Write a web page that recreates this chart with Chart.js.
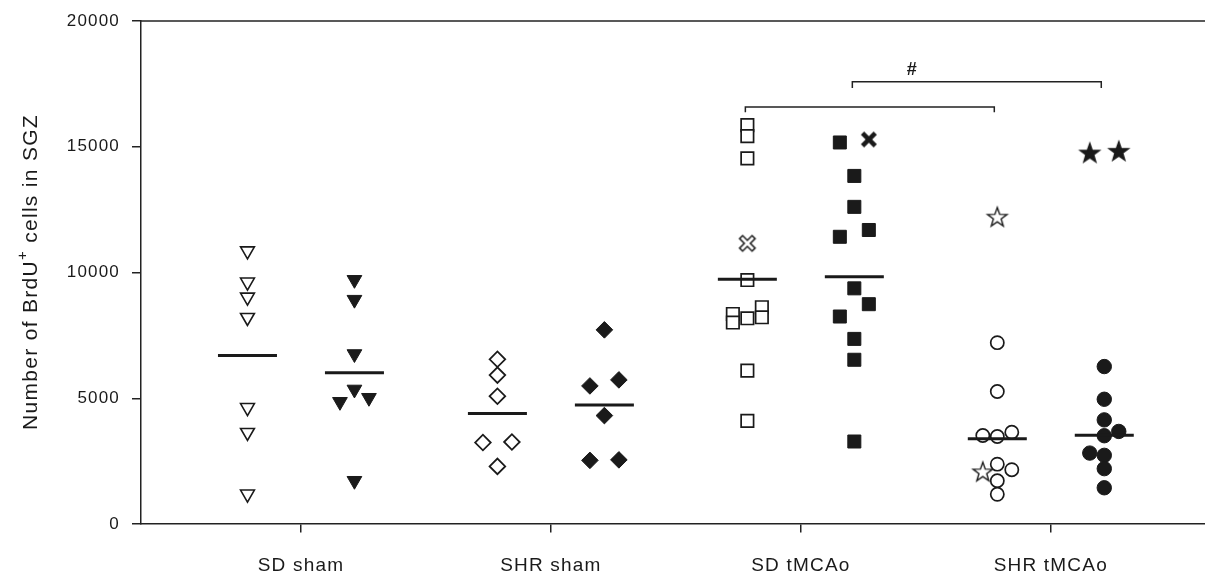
<!DOCTYPE html>
<html>
<head>
<meta charset="utf-8">
<script src="https://cdn.jsdelivr.net/npm/chart.js@4.4.0/dist/chart.umd.min.js"></script>
<style>
  html, body { margin: 0; padding: 0; background: #fff; }
</style>
</head>
<body>
<canvas id="myChart" width="1205" height="579"></canvas>
<script>
// Categories and y ticks
const categories = ['SD sham', 'SHR sham', 'SD tMCAo', 'SHR tMCAo'];
const yTicks = [0, 5000, 10000, 15000, 20000];

// SD sham (open = left, filled = right)
const sdShamOpen = [10860, 9620, 9020, 8210, 4630, 3640, 1190];
const sdShamFilled = [9710, 8920, 6760, 5350, 4860, 5020, 1720];
const sdShamFilledCol = [0, 0, 0, 0, -1, 1, 0];

// SHR sham
const shrShamOpen = [6550, 5920, 5080, 3240, 3260, 2290];
const shrShamOpenCol = [0, 0, 0, -1, 1, 0];
const shrShamFilled = [7720, 5490, 5730, 4310, 2530, 2550];
const shrShamFilledCol = [0, -1, 1, 0, -1, 1];

// SD tMCAo
const sdMcaoOpen = [15860, 15420, 14540, 9700, 8350, 8010, 8180, 8620, 8220, 6100, 4100];
const sdMcaoOpenCol = [0, 0, 0, 0, -1, -1, 0, 1, 1, 0, 0];
const sdMcaoOpenCross = [11160];
const sdMcaoFilled = [15170, 13840, 12610, 11690, 11420, 9370, 8740, 8250, 7360, 6530, 3280];
const sdMcaoFilledCol = [-1, 0, 0, 1, -1, 0, 1, -1, 0, 0, 0];
const sdMcaoFilledCross = [15290];
const sdMcaoFilledCrossCol = [1];

// SHR tMCAo
const shrMcaoOpen = [7210, 5270, 3520, 3480, 3650, 2380, 2160, 1720, 1180];
const shrMcaoOpenCol = [0, 0, -1, 0, 1, 0, 1, 0, 0];
const shrMcaoOpenStar = [12220, 2090];
const shrMcaoOpenStarCol = [0, -1];
const shrMcaoFilled = [6260, 4960, 4140, 3680, 3510, 2820, 2730, 2200, 1440];
const shrMcaoFilledCol = [0, 0, 0, 1, 0, -1, 0, 0, 0];
const shrMcaoFilledStar = [14770, 14840];
const shrMcaoFilledStarCol = [-1, 1];

// group means (horizontal bars), order: SD sham o/f, SHR sham o/f, SD tMCAo o/f, SHR tMCAo o/f
const means = [6700, 6010, 4390, 4730, 9730, 9830, 3390, 3530];

// significance brackets
const bracketLevels = [16580, 17580];
const bracketDrop = [210, 240];
const hashPos = [3.444, 18050];

const ink = '#1a1a1a';
const fontFam = "'Liberation Sans', Arial, sans-serif";
const groupShift = 0.214;
const colShift = 0.058;

function xPos(cat, side) {
  return cat + side * groupShift;
}

function pts(cat, side, values, cols) {
  return values.map((v, i) => ({ x: xPos(cat, side) + (cols ? cols[i] : 0) * colShift, y: v }));
}

function makeStar(filled) {
  const c = document.createElement('canvas');
  c.width = 26; c.height = 26;
  const g = c.getContext('2d');
  g.beginPath();
  for (let i = 0; i < 10; i++) {
    const r = i % 2 ? 4.1 : 10.2;
    const a = -Math.PI / 2 + i * Math.PI / 5;
    g.lineTo(13 + r * Math.cos(a), 14 + r * Math.sin(a));
  }
  g.closePath();
  g.fillStyle = filled ? ink : '#fff';
  g.fill();
  g.lineWidth = 1.4;
  g.strokeStyle = ink;
  g.stroke();
  return c;
}

function makeCross(hollow) {
  const c = document.createElement('canvas');
  c.width = 24; c.height = 24;
  const g = c.getContext('2d');
  const lines = (e) => {
    g.beginPath();
    g.moveTo(12 - e, 12 - e); g.lineTo(12 + e, 12 + e);
    g.moveTo(12 + e, 12 - e); g.lineTo(12 - e, 12 + e);
    g.stroke();
  };
  g.lineCap = 'butt';
  if (hollow) {
    g.strokeStyle = ink; g.lineWidth = 5.8; lines(6.8);
    g.strokeStyle = '#fff'; g.lineWidth = 2.8; lines(5.7);
  } else {
    g.strokeStyle = ink; g.lineWidth = 4.6; lines(6.4);
  }
  return c;
}

const meanPts = [];
[1, 2, 3, 4].forEach((cat, i) => {
  meanPts.push({ x: xPos(cat, -1), y: means[i * 2] });
  meanPts.push({ x: xPos(cat, 1), y: means[i * 2 + 1] });
});

function ds(data, style, filled, radius, extra) {
  return Object.assign({
    data: data,
    pointStyle: style,
    pointRadius: radius,
    pointHoverRadius: radius,
    backgroundColor: filled ? ink : '#fff',
    borderColor: ink,
    borderWidth: filled ? 1 : 1.6,
    order: 1
  }, extra || {});
}

const datasets = [
  { data: meanPts, pointStyle: 'line', pointRadius: 29.5, pointHoverRadius: 29.5, borderColor: ink, borderWidth: 3, order: 0 },
  ds(pts(1, -1, sdShamOpen), 'triangle', false, 8, { rotation: 180, borderWidth: 1.6 }),
  ds(pts(1, 1, sdShamFilled, sdShamFilledCol), 'triangle', true, 8.5, { rotation: 180 }),
  ds(pts(2, -1, shrShamOpen, shrShamOpenCol), 'rectRot', false, 7.8, { borderWidth: 1.8 }),
  ds(pts(2, 1, shrShamFilled, shrShamFilledCol), 'rectRot', true, 8.3),
  ds(pts(3, -1, sdMcaoOpen, sdMcaoOpenCol), 'rect', false, 8.8, { borderWidth: 1.7 }),
  ds(pts(3, -1, sdMcaoOpenCross), makeCross(true), false, 10),
  ds(pts(3, 1, sdMcaoFilled, sdMcaoFilledCol), 'rect', true, 9.2),
  ds(pts(3, 1, sdMcaoFilledCross, sdMcaoFilledCrossCol), makeCross(false), true, 10),
  ds(pts(4, -1, shrMcaoOpen, shrMcaoOpenCol), 'circle', false, 6.6, { borderWidth: 1.7 }),
  ds(pts(4, -1, shrMcaoOpenStar, shrMcaoOpenStarCol), makeStar(false), false, 10),
  ds(pts(4, 1, shrMcaoFilled, shrMcaoFilledCol), 'circle', true, 7.2),
  ds(pts(4, 1, shrMcaoFilledStar, shrMcaoFilledStarCol), makeStar(true), true, 10)
];

const extras = {
  id: 'extras',
  beforeDraw(chart) {
    chart.ctx.letterSpacing = '1.2px';
  },
  afterDraw(chart) {
    const { ctx, chartArea, scales } = chart;
    const xs = scales.x, ys = scales.y;
    ctx.save();
    ctx.strokeStyle = '#222';
    ctx.lineWidth = 1.5;
    // top frame line
    ctx.beginPath();
    ctx.moveTo(chartArea.left - 0.75, chartArea.top);
    ctx.lineTo(chartArea.right, chartArea.top);
    ctx.stroke();
    // brackets: SD tMCAo vs SHR tMCAo, open and filled
    [-1, 1].forEach((side, i) => {
      const x1 = xs.getPixelForValue(xPos(3, side)) - 2;
      const x2 = xs.getPixelForValue(xPos(4, side)) - 3;
      const yt = ys.getPixelForValue(bracketLevels[i]);
      const yb = ys.getPixelForValue(bracketLevels[i] - bracketDrop[i]);
      ctx.beginPath();
      ctx.moveTo(x1, yb); ctx.lineTo(x1, yt); ctx.lineTo(x2, yt); ctx.lineTo(x2, yb);
      ctx.stroke();
    });
    ctx.letterSpacing = '0px';
    ctx.fillStyle = ink;
    ctx.font = 'bold 18px ' + fontFam;
    ctx.textAlign = 'center';
    ctx.textBaseline = 'middle';
    ctx.fillText('#', xs.getPixelForValue(hashPos[0]), ys.getPixelForValue(hashPos[1]));

    // y axis title with superscript
    ctx.letterSpacing = '1.3px';
    const mainFont = '21px ' + fontFam, supFont = '15px ' + fontFam;
    const p1 = 'Number of BrdU', p2 = '+', p3 = ' cells in SGZ';
    ctx.font = mainFont;
    const w1 = ctx.measureText(p1).width, w3 = ctx.measureText(p3).width;
    ctx.font = supFont;
    const w2 = ctx.measureText(p2).width;
    const total = w1 + w2 + w3;
    ctx.translate(37, 272);
    ctx.rotate(-Math.PI / 2);
    ctx.textAlign = 'left';
    ctx.textBaseline = 'alphabetic';
    let cx = -total / 2;
    ctx.font = mainFont;
    ctx.fillText(p1, cx, 0);
    cx += w1;
    ctx.font = supFont;
    ctx.fillText(p2, cx, -10);
    cx += w2;
    ctx.font = mainFont;
    ctx.fillText(p3, cx, 0);
    ctx.restore();
  }
};

new Chart(document.getElementById('myChart').getContext('2d'), {
  type: 'scatter',
  data: { datasets: datasets },
  options: {
    responsive: false,
    animation: false,
    devicePixelRatio: 1,
    layout: { autoPadding: false, padding: { top: 21, left: 0, right: 0, bottom: 0 } },
    plugins: { legend: { display: false }, tooltip: { enabled: false } },
    scales: {
      x: {
        type: 'linear',
        min: 0.36,
        max: 4.617,
        afterBuildTicks: (scale) => { scale.ticks = [1, 2, 3, 4].map(v => ({ value: v })); },
        afterFit: (scale) => {
          scale.height = 55;
          scale.paddingLeft = 0;
          scale.paddingRight = 0;
        },
        ticks: {
          callback: (v) => categories[v - 1],
          font: { family: fontFam, size: 19 },
          color: ink,
          padding: 22,
          maxRotation: 0,
          autoSkip: false
        },
        grid: { drawOnChartArea: false, tickLength: 8.5, color: '#222', lineWidth: 1.5 },
        border: { color: '#222', width: 1.5 }
      },
      y: {
        min: 0,
        max: 20000,
        afterBuildTicks: (scale) => { scale.ticks = yTicks.map(v => ({ value: v })); },
        afterFit: (scale) => {
          scale.width = 141;
          scale.paddingTop = 0;
          scale.paddingBottom = 0;
        },
        ticks: {
          callback: (v) => String(v),
          font: { family: fontFam, size: 17 },
          color: ink,
          padding: 12
        },
        grid: { drawOnChartArea: false, tickLength: 9, color: '#222', lineWidth: 1.5 },
        border: { color: '#222', width: 1.5 }
      }
    }
  },
  plugins: [extras]
});
</script>
</body>
</html>
